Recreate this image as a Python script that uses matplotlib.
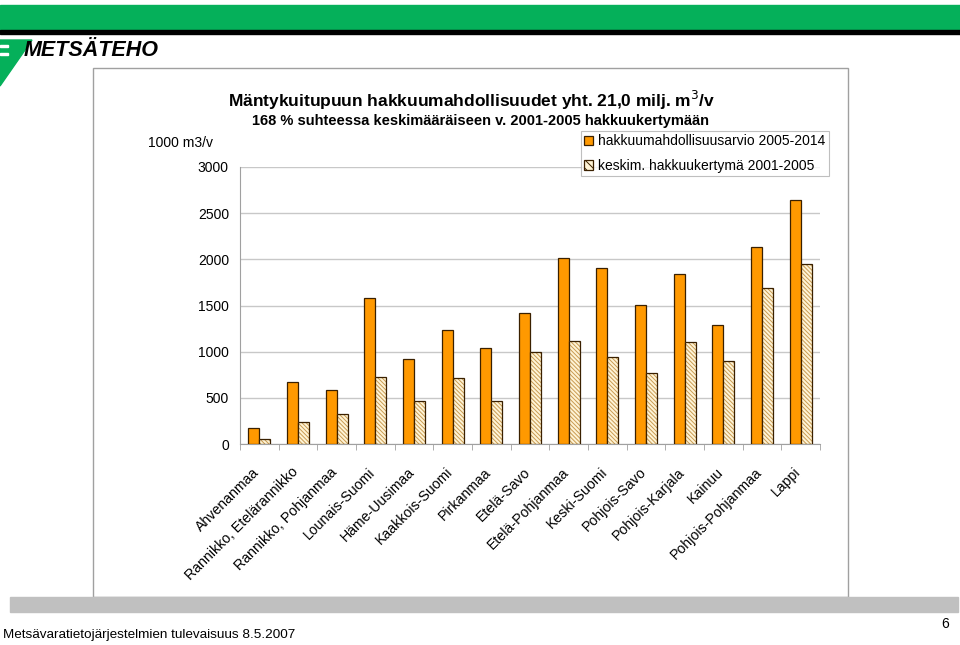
import matplotlib
matplotlib.use("Agg")
import matplotlib.pyplot as plt
from matplotlib.patches import Rectangle, Polygon
from matplotlib.transforms import ScaledTranslation
import numpy as np

plt.rcParams['font.family'] = ['Liberation Sans', 'DejaVu Sans']
plt.rcParams['hatch.linewidth'] = 0.7

regions = ["Ahvenanmaa", "Rannikko, Etelärannikko", "Rannikko, Pohjanmaa", "Lounais-Suomi",
           "Häme-Uusimaa", "Kaakkois-Suomi", "Pirkanmaa", "Etelä-Savo", "Etelä-Pohjanmaa",
           "Keski-Suomi", "Pohjois-Savo", "Pohjois-Karjala", "Kainuu", "Pohjois-Pohjanmaa", "Lappi"]
arvio = [173, 671, 588, 1580, 920, 1237, 1035, 1418, 2017, 1901, 1508, 1840, 1284, 2136, 2644]
kertyma = [54, 234, 328, 729, 469, 718, 469, 992, 1118, 942, 768, 1108, 895, 1688, 1945]
yticks = [0, 500, 1000, 1500, 2000, 2500, 3000]
lab_arvio = 'hakkuumahdollisuusarvio 2005-2014'
lab_kert = 'keskim. hakkuukertymä 2001-2005'

W, H = 960, 645
fig = plt.figure(figsize=(9.6, 6.45), dpi=100)

def fx(px):
    return px / W

def fy(py):
    return 1 - py / H

# top band + logo
fig.patches.append(Rectangle((0, fy(30)), 1, 25 / H, transform=fig.transFigure,
                             color='#05B05A', zorder=0))
fig.patches.append(Rectangle((0, fy(34)), 1, 4 / H, transform=fig.transFigure,
                             color='black', zorder=0))
fig.patches.append(Polygon([(fx(0), fy(40)), (fx(32), fy(40)), (fx(0), fy(86))],
                           closed=True, transform=fig.transFigure, color='#05B05A', zorder=1))
for yy in (45, 53):
    fig.patches.append(Rectangle((0, fy(yy + 2)), 8 / W, 2 / H, transform=fig.transFigure,
                                 color='white', zorder=2))
fig.text(fx(24), fy(50), "METSÄTEHO", fontsize=15.5, fontweight='bold', style='italic',
         va='center', ha='left', color='black')

# frame of the chart
fig.patches.append(Rectangle((fx(93), fy(597)), 755 / W, 529 / H, transform=fig.transFigure,
                             facecolor='white', edgecolor='#A0A0A0', lw=1, zorder=1))
# bottom gray band
fig.patches.append(Rectangle((fx(10), fy(612)), 948 / W, 15 / H, transform=fig.transFigure,
                             color='#C0C0C0', zorder=2))

ax = fig.add_axes([fx(240), fy(444), 580 / W, (444 - 167) / H])
ax.set_zorder(3)
x = np.arange(len(regions))
w = 0.285
ax.bar(x - w / 2, arvio, w, color='#FF9900', edgecolor='#3A2000', lw=0.9, zorder=3)
# hatched series: fill + light hatch, then dark outline on top
ax.bar(x + w / 2, kertyma, w, facecolor='#FFF4D6', edgecolor='#C99B52', lw=0,
       hatch='\\\\\\\\\\\\\\\\', zorder=3)
ax.bar(x + w / 2, kertyma, w, fill=False, edgecolor='#3A2000', lw=0.9, zorder=4)

ax.set_xlim(-0.5, len(regions) - 0.5)
ax.set_ylim(0, 3000)
ax.set_yticks(yticks)
ax.set_yticklabels([str(v) for v in yticks], fontsize=10)
ax.yaxis.grid(True, color='#C8C8C8', lw=1)
ax.set_axisbelow(True)
ax.tick_params(axis='y', length=0, pad=8)
ax.set_xticks(np.arange(len(regions) + 1) - 0.5, minor=True)
ax.set_xticks(x)
ax.set_xticklabels([])
ax.tick_params(axis='x', which='major', length=0)
ax.tick_params(axis='x', which='minor', length=4, color='#A0A0A0')
for s in ['top', 'right']:
    ax.spines[s].set_visible(False)
ax.spines['left'].set_color('#A0A0A0')
ax.spines['bottom'].set_color('#A0A0A0')

off = ScaledTranslation(-0.07, -0.21, fig.dpi_scale_trans)
for xi, name in zip(x, regions):
    ax.text(xi, 0, name, transform=ax.get_xaxis_transform() + off, rotation=45,
            rotation_mode='anchor', ha='right', va='top', fontsize=10.2)

h1 = Rectangle((0, 0), 1, 1, facecolor='#FF9900', edgecolor='#3A2000', lw=0.9)
h2 = Rectangle((0, 0), 1, 1, facecolor='#FFF4D6', edgecolor='#3A2000', lw=0.9, hatch='\\\\\\\\')
leg = ax.legend([h1, h2], [lab_arvio, lab_kert], loc='upper right',
                bbox_to_anchor=(fx(829), fy(131)), bbox_transform=fig.transFigure,
                fontsize=10, frameon=True, fancybox=False, edgecolor='#B0B0B0',
                handlelength=0.65, handleheight=0.65, handletextpad=0.35, borderpad=0.25,
                labelspacing=0.75, borderaxespad=0)
leg.get_frame().set_linewidth(0.8)

fig.text(fx(472), fy(100), "Mäntykuitupuun hakkuumahdollisuudet yht. 21,0 milj. m$^3$/v",
         fontsize=12.5, fontweight='bold', ha='center', va='center', zorder=5)
fig.text(fx(480), fy(121), "168 % suhteessa keskimääräiseen v. 2001-2005 hakkuukertymään",
         fontsize=10.5, fontweight='bold', ha='center', va='center', zorder=5)
fig.text(fx(180), fy(143), "1000 m3/v", fontsize=10, ha='center', va='center', zorder=5)

fig.text(fx(3), fy(635), "Metsävaratietojärjestelmien tulevaisuus 8.5.2007", fontsize=9.7,
         ha='left', va='center')
fig.text(fx(945), fy(624), "6", fontsize=10, ha='center', va='center')

fig.savefig("out.png", dpi=100)
